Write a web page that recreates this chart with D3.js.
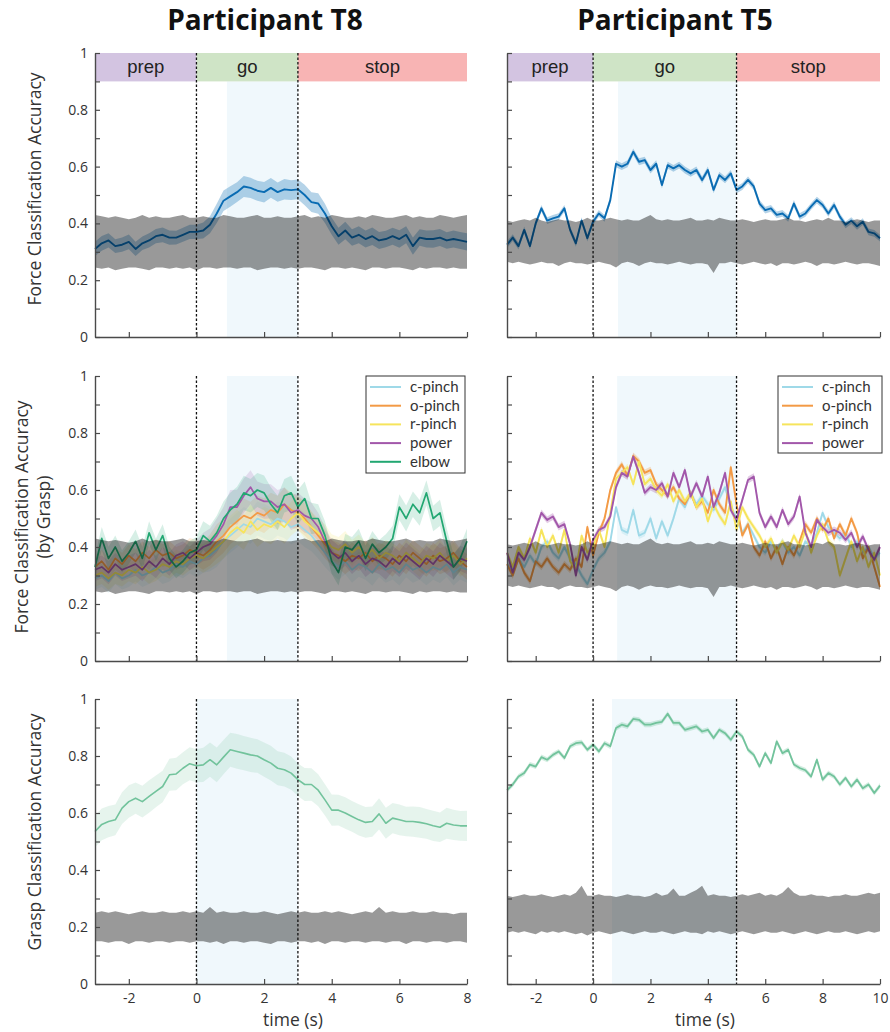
<!DOCTYPE html>
<html>
<head>
<meta charset="utf-8">
<script src="https://cdn.jsdelivr.net/npm/d3@7"></script>
<style>
  body { margin: 0; background: #fff; }
  text { font-family: "Open Sans", "Noto Sans", sans-serif; fill: #333; }
  .phase-label { font-family: "Liberation Sans", Arial, sans-serif; fill: #222; }
  .legend-label { font-family: Lato, "Liberation Sans", sans-serif; }
  .title { font-weight: 700; fill: #111; }
</style>
</head>
<body>
<svg id="fig" width="890" height="1032"></svg>
<script>
// ---- time grids / task phases ----
const phaseNames = ["prep", "go", "stop"];
const phaseEdgesT8 = [-3, 0, 3, 8];
const phaseEdgesT5 = [-3, 0, 5, 10];
const xTicksT8 = [-2, 0, 2, 4, 6, 8];
const xTicksT5 = [-2, 0, 2, 4, 6, 8, 10];
const goShadeT8 = [0.9, 0.9, 0];      // start of light-blue window per row
const goShadeT5 = [0.87, 0.84, 0.66];
const graspNames = ["c-pinch", "o-pinch", "r-pinch", "power", "elbow"];
const graspColors = ["#9fd9e8", "#f39a45", "#f6e45c", "#a257aa", "#22a772"];

// ---- row 1: force classification ----
const forceT8 = [0.31,0.33,0.34,0.32,0.325,0.335,0.31,0.33,0.34,0.355,
  0.36,0.35,0.35,0.36,0.37,0.37,0.375,0.395,0.435,0.48,
  0.495,0.51,0.53,0.525,0.515,0.51,0.525,0.51,0.52,0.517,
  0.52,0.50,0.475,0.47,0.435,0.39,0.355,0.375,0.35,0.36,
  0.345,0.355,0.34,0.345,0.355,0.345,0.36,0.32,0.35,0.345,
  0.345,0.35,0.34,0.345,0.34,0.335];
const forceErrT8 = [0.025,0.026,0.025,0.024,0.025,0.026,0.025,0.024,0.025,0.025,
  0.026,0.025,0.024,0.025,0.025,0.025,0.028,0.03,0.034,0.036,
  0.036,0.035,0.037,0.036,0.035,0.036,0.035,0.034,0.036,0.035,
  0.035,0.036,0.035,0.036,0.034,0.03,0.03,0.031,0.029,0.03,
  0.03,0.031,0.03,0.029,0.03,0.031,0.03,0.03,0.029,0.03,
  0.031,0.03,0.029,0.03,0.03,0.03];
const forceT5 = [0.325,0.35,0.32,0.377,0.32,0.40,0.453,0.41,0.418,0.424,
  0.453,0.377,0.33,0.41,0.348,0.406,0.435,0.418,0.482,0.61,
  0.60,0.61,0.652,0.617,0.623,0.588,0.61,0.535,0.605,0.594,
  0.605,0.588,0.576,0.588,0.553,0.588,0.518,0.57,0.553,0.576,
  0.518,0.53,0.553,0.53,0.47,0.447,0.453,0.43,0.435,0.418,
  0.47,0.424,0.435,0.46,0.482,0.465,0.435,0.465,0.424,0.395,
  0.41,0.39,0.406,0.37,0.365,0.348];
const forceErrT5 = 0.012;

// chance-level bands, rows 1 and 2 share them
const chanceHiT8 = [0.43,0.425,0.42,0.425,0.42,0.415,0.42,0.43,0.42,0.425,
  0.42,0.42,0.425,0.43,0.42,0.42,0.425,0.42,0.42,0.43,
  0.425,0.42,0.42,0.425,0.43,0.42,0.42,0.425,0.42,0.42,
  0.425,0.43,0.42,0.425,0.42,0.43,0.425,0.42,0.42,0.425,
  0.42,0.43,0.425,0.42,0.42,0.425,0.43,0.42,0.425,0.42,
  0.42,0.43,0.425,0.42,0.425,0.43];
const chanceLoT8 = [0.245,0.24,0.245,0.235,0.24,0.245,0.245,0.24,0.235,0.245,
  0.245,0.24,0.245,0.24,0.245,0.235,0.245,0.245,0.24,0.245,
  0.245,0.24,0.245,0.245,0.235,0.24,0.245,0.245,0.24,0.245,
  0.24,0.245,0.245,0.24,0.235,0.245,0.245,0.24,0.245,0.24,
  0.235,0.245,0.245,0.24,0.245,0.245,0.24,0.235,0.245,0.24,
  0.245,0.245,0.24,0.245,0.24,0.24];
const chanceHiT5 = [0.41,0.405,0.41,0.415,0.41,0.42,0.41,0.405,0.41,0.415,
  0.41,0.41,0.405,0.41,0.42,0.41,0.41,0.415,0.42,0.415,
  0.41,0.415,0.41,0.41,0.42,0.43,0.415,0.41,0.415,0.41,
  0.41,0.415,0.42,0.41,0.41,0.415,0.41,0.42,0.415,0.41,
  0.41,0.415,0.41,0.405,0.41,0.415,0.41,0.41,0.415,0.42,
  0.41,0.41,0.405,0.41,0.415,0.41,0.42,0.41,0.41,0.405,
  0.41,0.415,0.41,0.405,0.41,0.41];
const chanceLoT5 = [0.265,0.26,0.265,0.26,0.255,0.26,0.265,0.26,0.26,0.25,
  0.26,0.265,0.26,0.26,0.255,0.26,0.265,0.26,0.255,0.245,
  0.26,0.265,0.26,0.25,0.26,0.265,0.26,0.26,0.255,0.26,
  0.265,0.26,0.255,0.26,0.26,0.255,0.225,0.26,0.26,0.265,
  0.26,0.255,0.26,0.265,0.26,0.255,0.26,0.25,0.26,0.26,
  0.255,0.26,0.265,0.26,0.25,0.26,0.26,0.255,0.26,0.265,
  0.26,0.255,0.26,0.26,0.255,0.25];

// ---- row 2: force classification by grasp ----
const cPinchT8 = [0.29,0.30,0.28,0.31,0.29,0.30,0.32,0.30,0.31,0.33,
  0.31,0.32,0.34,0.33,0.35,0.34,0.36,0.37,0.39,0.42,
  0.44,0.46,0.48,0.47,0.50,0.49,0.48,0.50,0.49,0.47,
  0.48,0.46,0.44,0.41,0.38,0.35,0.33,0.35,0.32,0.34,
  0.33,0.31,0.34,0.32,0.33,0.31,0.34,0.32,0.33,0.31,
  0.33,0.32,0.34,0.31,0.33,0.32];
const oPinchT8 = [0.33,0.35,0.32,0.36,0.34,0.37,0.35,0.38,0.36,0.39,
  0.37,0.38,0.36,0.37,0.39,0.38,0.37,0.39,0.42,0.44,
  0.47,0.49,0.51,0.50,0.52,0.51,0.53,0.52,0.55,0.53,
  0.52,0.50,0.47,0.44,0.41,0.38,0.37,0.35,0.37,0.36,
  0.38,0.35,0.37,0.36,0.34,0.37,0.35,0.38,0.36,0.34,
  0.37,0.35,0.36,0.38,0.35,0.33];
const rPinchT8 = [0.30,0.31,0.29,0.31,0.30,0.32,0.31,0.33,0.31,0.32,
  0.34,0.33,0.35,0.34,0.36,0.37,0.36,0.38,0.40,0.42,
  0.45,0.47,0.45,0.49,0.46,0.48,0.47,0.49,0.47,0.50,
  0.52,0.49,0.47,0.45,0.43,0.40,0.39,0.41,0.38,0.40,
  0.37,0.39,0.36,0.38,0.37,0.35,0.38,0.36,0.34,0.37,
  0.36,0.38,0.35,0.37,0.34,0.36];
const powerT8 = [0.32,0.33,0.31,0.34,0.32,0.33,0.34,0.32,0.35,0.33,
  0.36,0.34,0.37,0.38,0.36,0.38,0.40,0.41,0.44,0.48,
  0.54,0.54,0.58,0.61,0.57,0.56,0.56,0.54,0.55,0.52,
  0.53,0.51,0.50,0.47,0.42,0.38,0.36,0.38,0.35,0.37,
  0.34,0.36,0.35,0.33,0.36,0.34,0.37,0.35,0.33,0.36,
  0.34,0.37,0.35,0.33,0.36,0.35];
const elbowT8 = [0.33,0.43,0.36,0.40,0.35,0.38,0.42,0.36,0.45,0.39,
  0.44,0.36,0.33,0.35,0.38,0.39,0.44,0.42,0.45,0.50,
  0.53,0.55,0.59,0.58,0.60,0.59,0.55,0.52,0.58,0.59,
  0.54,0.57,0.50,0.50,0.44,0.35,0.31,0.40,0.39,0.42,
  0.36,0.41,0.38,0.40,0.43,0.54,0.50,0.55,0.52,0.59,
  0.50,0.52,0.42,0.33,0.36,0.42];
const graspErrT8 = [0.04,0.04,0.041,0.04,0.039,0.04,0.041,0.04,0.04,0.039,
  0.04,0.041,0.04,0.04,0.042,0.045,0.05,0.055,0.06,0.06,
  0.06,0.061,0.06,0.059,0.06,0.061,0.06,0.06,0.059,0.06,
  0.06,0.06,0.055,0.05,0.05,0.045,0.045,0.046,0.045,0.044,
  0.045,0.046,0.045,0.045,0.044,0.045,0.046,0.045,0.045,0.044,
  0.045,0.046,0.045,0.045,0.044,0.045];

const cPinchT5 = [0.34,0.32,0.36,0.33,0.37,0.34,0.40,0.42,0.38,0.36,
  0.40,0.36,0.34,0.30,0.27,0.32,0.36,0.38,0.42,0.54,
  0.46,0.45,0.53,0.44,0.45,0.50,0.43,0.49,0.44,0.50,
  0.57,0.54,0.59,0.55,0.58,0.55,0.53,0.57,0.61,0.54,
  0.50,0.45,0.48,0.44,0.40,0.38,0.42,0.39,0.42,0.38,
  0.40,0.37,0.42,0.40,0.45,0.52,0.47,0.45,0.43,0.45,
  0.40,0.42,0.38,0.40,0.36,0.38];
const oPinchT5 = [0.34,0.30,0.36,0.31,0.28,0.35,0.33,0.36,0.33,0.31,
  0.34,0.32,0.36,0.33,0.47,0.37,0.45,0.50,0.60,0.66,
  0.69,0.65,0.72,0.70,0.66,0.67,0.62,0.60,0.58,0.61,
  0.57,0.55,0.59,0.54,0.56,0.52,0.60,0.55,0.52,0.68,
  0.55,0.44,0.48,0.40,0.37,0.42,0.36,0.40,0.34,0.40,
  0.37,0.42,0.48,0.45,0.50,0.46,0.50,0.43,0.48,0.44,
  0.50,0.45,0.36,0.40,0.33,0.26];
const rPinchT5 = [0.38,0.33,0.40,0.36,0.43,0.38,0.46,0.40,0.44,0.38,
  0.46,0.35,0.32,0.44,0.38,0.40,0.46,0.40,0.52,0.64,
  0.66,0.68,0.62,0.70,0.62,0.64,0.60,0.58,0.62,0.56,
  0.60,0.56,0.59,0.54,0.57,0.49,0.55,0.51,0.48,0.56,
  0.46,0.54,0.50,0.47,0.44,0.40,0.43,0.38,0.42,0.39,
  0.44,0.40,0.46,0.38,0.44,0.48,0.42,0.40,0.30,0.36,
  0.42,0.35,0.40,0.33,0.38,0.30];
const powerT5 = [0.38,0.31,0.38,0.355,0.40,0.46,0.52,0.495,0.507,0.47,
  0.48,0.41,0.30,0.40,0.355,0.425,0.46,0.47,0.507,0.61,
  0.66,0.647,0.717,0.66,0.59,0.61,0.60,0.624,0.577,0.66,
  0.61,0.67,0.577,0.624,0.577,0.647,0.54,0.59,0.66,0.53,
  0.495,0.565,0.635,0.647,0.52,0.47,0.507,0.47,0.53,0.48,
  0.507,0.577,0.45,0.40,0.495,0.47,0.45,0.46,0.45,0.425,
  0.45,0.40,0.437,0.39,0.355,0.40];
const graspErrT5 = 0.012;

// ---- row 3: grasp classification ----
const graspT8 = [0.535,0.56,0.57,0.576,0.617,0.64,0.652,0.64,0.658,0.676,
  0.693,0.734,0.737,0.757,0.773,0.766,0.769,0.787,0.769,0.796,
  0.822,0.816,0.81,0.804,0.80,0.787,0.775,0.757,0.752,0.74,
  0.717,0.70,0.70,0.68,0.646,0.61,0.61,0.60,0.588,0.576,
  0.567,0.57,0.597,0.564,0.582,0.576,0.57,0.57,0.567,0.562,
  0.555,0.55,0.564,0.558,0.555,0.555];
const graspAccErrT8 = [0.055,0.056,0.055,0.054,0.056,0.057,0.055,0.056,0.057,0.056,
  0.055,0.056,0.057,0.056,0.058,0.058,0.06,0.06,0.061,0.06,
  0.06,0.061,0.06,0.06,0.059,0.06,0.061,0.06,0.059,0.058,
  0.057,0.058,0.057,0.056,0.055,0.055,0.054,0.055,0.054,0.055,
  0.054,0.053,0.055,0.054,0.053,0.054,0.052,0.053,0.054,0.052,
  0.053,0.052,0.054,0.053,0.052,0.053];
const graspT5 = [0.68,0.70,0.728,0.74,0.77,0.763,0.796,0.787,0.804,0.816,
  0.793,0.834,0.845,0.848,0.822,0.84,0.816,0.845,0.834,0.898,
  0.91,0.904,0.93,0.927,0.91,0.91,0.916,0.92,0.948,0.916,
  0.916,0.892,0.898,0.904,0.886,0.892,0.863,0.892,0.88,0.857,
  0.886,0.869,0.822,0.804,0.763,0.81,0.775,0.851,0.81,0.822,
  0.77,0.758,0.75,0.728,0.787,0.717,0.74,0.728,0.70,0.723,
  0.693,0.717,0.687,0.70,0.67,0.696];
const graspAccErrT5 = 0.009;

const graspChanceHiT8 = [0.25,0.255,0.25,0.255,0.25,0.245,0.25,0.255,0.25,0.25,
  0.255,0.25,0.25,0.255,0.25,0.255,0.25,0.27,0.25,0.255,
  0.25,0.25,0.255,0.25,0.25,0.255,0.25,0.245,0.25,0.255,
  0.25,0.255,0.25,0.25,0.255,0.25,0.255,0.25,0.245,0.25,
  0.255,0.25,0.27,0.25,0.255,0.25,0.25,0.255,0.25,0.25,
  0.255,0.25,0.25,0.245,0.25,0.25];
const graspChanceLoT8 = [0.15,0.15,0.145,0.15,0.15,0.14,0.15,0.15,0.145,0.15,
  0.15,0.145,0.15,0.15,0.145,0.15,0.15,0.145,0.15,0.14,
  0.15,0.15,0.145,0.15,0.15,0.145,0.14,0.15,0.15,0.145,
  0.15,0.15,0.145,0.15,0.14,0.15,0.15,0.145,0.15,0.15,
  0.145,0.15,0.15,0.145,0.15,0.15,0.14,0.15,0.15,0.145,
  0.15,0.15,0.145,0.15,0.15,0.145];
const graspChanceHiT5 = [0.31,0.305,0.31,0.315,0.31,0.31,0.315,0.31,0.305,0.31,
  0.315,0.31,0.32,0.345,0.31,0.31,0.315,0.31,0.31,0.305,
  0.31,0.315,0.31,0.31,0.305,0.31,0.32,0.31,0.315,0.335,
  0.31,0.31,0.32,0.33,0.345,0.31,0.315,0.31,0.31,0.305,
  0.31,0.315,0.31,0.315,0.32,0.31,0.315,0.31,0.32,0.34,
  0.32,0.31,0.31,0.315,0.31,0.31,0.305,0.31,0.31,0.315,
  0.31,0.31,0.315,0.32,0.315,0.32];
const graspChanceLoT5 = [0.18,0.185,0.18,0.185,0.18,0.175,0.185,0.18,0.185,0.18,
  0.185,0.18,0.175,0.18,0.17,0.18,0.185,0.18,0.175,0.18,
  0.185,0.18,0.175,0.18,0.185,0.18,0.18,0.185,0.18,0.175,
  0.18,0.185,0.18,0.18,0.175,0.185,0.18,0.185,0.18,0.175,
  0.18,0.185,0.18,0.175,0.18,0.185,0.18,0.18,0.185,0.18,
  0.175,0.18,0.185,0.18,0.175,0.18,0.185,0.18,0.18,0.185,
  0.18,0.175,0.18,0.185,0.18,0.185];

// samples every 0.2 s starting at -3 s
function timeGrid(n) {
  return d3.range(n).map(i => Math.round((-3 + i * 0.2) * 10) / 10);
}

const svg = d3.select("#fig");

// column / row placement (pixels)
const cols = [
  { left: 95, right: 467, edges: phaseEdgesT8, ticks: xTicksT8, shade: goShadeT8 },
  { left: 507, right: 880, edges: phaseEdgesT5, ticks: xTicksT5, shade: goShadeT5 }
];
const rows = [
  { top: 53, bottom: 337 },
  { top: 376, bottom: 661 },
  { top: 699, bottom: 984 }
];

function drawPanel(col, row, rowIndex, cfg) {
  const x = d3.scaleLinear()
    .domain([col.edges[0], col.edges[col.edges.length - 1]])
    .range([col.left, col.right]);
  const y = d3.scaleLinear().domain([0, 1]).range([row.bottom, row.top]);
  const g = svg.append("g");
  const time = timeGrid(cfg.series[0].values.length);
  const cue0 = col.edges[1], cue1 = col.edges[2];

  // light blue movement window
  const shadeTop = cfg.phases ? y(0.9) : y(1);
  g.append("rect")
    .attr("x", x(col.shade[rowIndex]))
    .attr("y", shadeTop)
    .attr("width", x(cue1) - x(col.shade[rowIndex]))
    .attr("height", y(0) - shadeTop)
    .attr("fill", "#f0f8fc");

  // phase bar
  if (cfg.phases) {
    phaseNames.forEach((name, i) => {
      g.append("rect")
        .attr("x", x(col.edges[i]))
        .attr("y", y(1))
        .attr("width", x(col.edges[i + 1]) - x(col.edges[i]))
        .attr("height", y(0.9) - y(1))
        .attr("fill", ["#d3c4e1", "#cfe4c6", "#f8b4b4"][i]);
      g.append("text")
        .classed("phase-label", true)
        .attr("x", (x(col.edges[i]) + x(col.edges[i + 1])) / 2)
        .attr("y", y(0.95))
        .attr("dy", "0.33em")
        .attr("text-anchor", "middle")
        .style("font-size", "18.5px")
        .text(name);
    });
  }

  // error bands then mean lines
  const area = d3.area()
    .x((d, i) => x(time[i]))
    .y0(d => y(d.lo))
    .y1(d => y(d.hi));
  const line = d3.line()
    .x((d, i) => x(time[i]))
    .y(d => y(d));

  cfg.series.forEach(s => {
    const band = s.values.map((v, i) => {
      const e = Array.isArray(s.err) ? s.err[i] : s.err;
      return { lo: v - e, hi: v + e };
    });
    g.append("path")
      .attr("d", area(band))
      .attr("fill", s.color)
      .attr("fill-opacity", s.bandOpacity);
  });
  cfg.series.forEach(s => {
    g.append("path")
      .attr("d", line(s.values))
      .attr("fill", "none")
      .attr("stroke", s.color)
      .attr("stroke-width", s.width)
      .attr("stroke-linejoin", "round");
  });

  // chance distribution on top
  const chance = cfg.chanceHi.map((v, i) => ({ lo: cfg.chanceLo[i], hi: v }));
  g.append("path")
    .attr("d", area(chance))
    .attr("fill", "#000")
    .attr("fill-opacity", 0.4);

  // go / stop cues
  [cue0, cue1].forEach(c => {
    g.append("line")
      .attr("x1", x(c)).attr("x2", x(c))
      .attr("y1", y(1)).attr("y2", y(0))
      .attr("stroke", "#111")
      .attr("stroke-width", 1.3)
      .attr("stroke-dasharray", "2.5,2");
  });

  // axes, ticks pointing inward like MATLAB
  const yAxis = d3.axisLeft(y)
    .tickValues(d3.range(11).map(i => i / 10))
    .tickSize(-5).tickSizeOuter(0).tickPadding(7)
    .tickFormat(d => (col.left < 300 && Math.round(d * 10) % 2 === 0) ? d3.format("~g")(d) : "");
  const xAxis = d3.axisBottom(x)
    .tickValues(col.ticks)
    .tickSize(-5).tickSizeOuter(0).tickPadding(9)
    .tickFormat(d => rowIndex === 2 ? d : "");

  [g.append("g").attr("transform", `translate(${col.left},0)`).call(yAxis),
   g.append("g").attr("transform", `translate(0,${row.bottom})`).call(xAxis)]
    .forEach(a => {
      a.select(".domain").attr("stroke", "#4a4a4a").attr("stroke-width", 1.4);
      a.selectAll(".tick line").attr("stroke", "#4a4a4a").attr("stroke-width", 1.2);
      a.selectAll(".tick text")
        .style("font-size", "14px")
        .style("font-family", "'Open Sans', sans-serif")
        .attr("fill", "#333");
    });

  // legend
  if (cfg.legend) {
    const lg = cfg.legend;
    g.append("rect")
      .attr("x", lg.x).attr("y", lg.y)
      .attr("width", lg.w).attr("height", lg.h)
      .attr("fill", "#fff")
      .attr("stroke", "#333")
      .attr("stroke-width", 1);
    cfg.series.forEach((s, i) => {
      const yy = lg.y + 11 + i * 18.7;
      g.append("line")
        .attr("x1", lg.x + 4).attr("x2", lg.x + 35)
        .attr("y1", yy).attr("y2", yy)
        .attr("stroke", s.color).attr("stroke-width", 2);
      g.append("text")
        .classed("legend-label", true)
        .attr("x", lg.x + 44).attr("y", yy)
        .attr("dy", "0.33em")
        .style("font-size", "15px")
        .text(s.name);
    });
  }
}

// ---- build panels ----
drawPanel(cols[0], rows[0], 0, {
  phases: true,
  series: [{ values: forceT8, err: forceErrT8, color: "#0a6cb3", width: 1.9, bandOpacity: 0.3 }],
  chanceHi: chanceHiT8, chanceLo: chanceLoT8
});
drawPanel(cols[1], rows[0], 0, {
  phases: true,
  series: [{ values: forceT5, err: forceErrT5, color: "#0a6cb3", width: 1.9, bandOpacity: 0.3 }],
  chanceHi: chanceHiT5, chanceLo: chanceLoT5
});

const graspSeriesT8 = [cPinchT8, oPinchT8, rPinchT8, powerT8, elbowT8].map((v, i) => ({
  name: graspNames[i], values: v, err: graspErrT8, color: graspColors[i],
  width: 1.7, bandOpacity: 0.18
}));
drawPanel(cols[0], rows[1], 1, {
  series: graspSeriesT8,
  chanceHi: chanceHiT8, chanceLo: chanceLoT8,
  legend: { x: 366, y: 376, w: 99, h: 97 }
});

const graspSeriesT5 = [cPinchT5, oPinchT5, rPinchT5, powerT5].map((v, i) => ({
  name: graspNames[i], values: v, err: graspErrT5, color: graspColors[i],
  width: 1.9, bandOpacity: 0.3
}));
drawPanel(cols[1], rows[1], 1, {
  series: graspSeriesT5,
  chanceHi: chanceHiT5, chanceLo: chanceLoT5,
  legend: { x: 778, y: 376, w: 104, h: 77 }
});

drawPanel(cols[0], rows[2], 2, {
  series: [{ values: graspT8, err: graspAccErrT8, color: "#72c39c", width: 1.6, bandOpacity: 0.18 }],
  chanceHi: graspChanceHiT8, chanceLo: graspChanceLoT8
});
drawPanel(cols[1], rows[2], 2, {
  series: [{ values: graspT5, err: graspAccErrT5, color: "#72c39c", width: 1.8, bandOpacity: 0.3 }],
  chanceHi: graspChanceHiT5, chanceLo: graspChanceLoT5
});

// ---- titles and axis labels ----
svg.append("text").classed("title", true)
  .attr("x", 265).attr("y", 30).attr("text-anchor", "middle")
  .style("font-size", "28px").text("Participant T8");
svg.append("text").classed("title", true)
  .attr("x", 675).attr("y", 30).attr("text-anchor", "middle")
  .style("font-size", "28px").text("Participant T5");

function yLabel(lines, cx, cy) {
  const t = svg.append("text")
    .attr("transform", `translate(${cx},${cy}) rotate(-90)`)
    .attr("text-anchor", "middle")
    .style("font-size", "17.5px");
  lines.forEach((s, i) => {
    t.append("tspan")
      .attr("x", 0)
      .attr("dy", i === 0 ? `${0.35 - (lines.length - 1) * 0.62}em` : "1.24em")
      .text(s);
  });
}
yLabel(["Force Classification Accuracy"], 35, 189);
yLabel(["Force Classification Accuracy", "(by Grasp)"], 33, 517);
yLabel(["Grasp Classification Accuracy"], 35, 832);

[293, 705].forEach(cx => {
  svg.append("text")
    .attr("x", cx).attr("y", 1026)
    .attr("text-anchor", "middle")
    .style("font-size", "17.5px")
    .text("time (s)");
});
</script>
</body>
</html>
